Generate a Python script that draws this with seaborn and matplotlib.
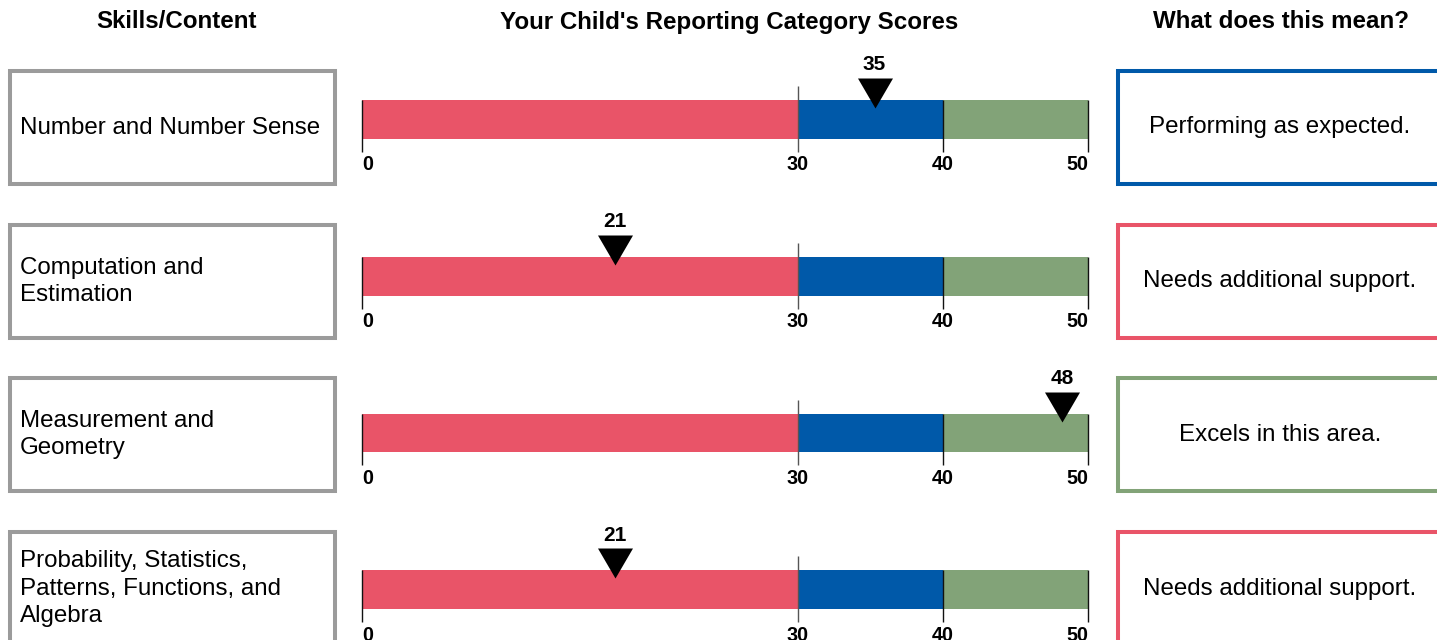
import matplotlib
matplotlib.use("Agg")
import matplotlib.pyplot as plt
from matplotlib.patches import Rectangle
from matplotlib.path import Path
import seaborn as sns
import pandas as pd

# ---------------- data ----------------
categories = [
    "Number and Number Sense",
    "Computation and\nEstimation",
    "Measurement and\nGeometry",
    "Probability, Statistics,\nPatterns, Functions, and\nAlgebra",
]
scores = [35, 21, 48, 21]
marker_pos = [35.3, 17.4, 48.2, 17.4]          # where the arrow sits on the scale
meanings = [
    "Performing as expected.",
    "Needs additional support.",
    "Excels in this area.",
    "Needs additional support.",
]
meaning_band = [1, 0, 2, 0]                    # index into bands
band_names = ["Needs support", "As expected", "Excels"]
band_ends = [30, 40, 50]
tick_values = [0, 30, 40, 50]
tick_labels = ["0", "30", "40", "50"]
headers = ["Skills/Content", "Your Child's Reporting Category Scores", "What does this mean?"]

band_colors = ["#E95468", "#0059A9", "#82A378"]
box_gray = "#9B9B9B"

# ---------------- figure ----------------
sns.set_style("white")
plt.rcParams["font.family"] = ["Liberation Sans", "DejaVu Sans"]
plt.rcParams["text.color"] = "black"

W, H = 1437, 640
fig = plt.figure(figsize=(W / 100, H / 100), dpi=100)


def fx(x):
    return x / W


def fy(y):
    return 1 - y / H


# headers
for hx, txt in zip([177, 729, 1281], headers):
    fig.text(fx(hx), fy(22), txt, ha="center", va="center", fontsize=17.4,
             fontweight="bold", color="black")

bar_px = 38.7
tri = Path([(-1, 0.857), (1, 0.857), (0, -0.857), (-1, 0.857)],
           [Path.MOVETO, Path.LINETO, Path.LINETO, Path.CLOSEPOLY])

for i, (cat, sc, mp, mean, mb) in enumerate(zip(categories, scores, marker_pos, meanings, meaning_band)):
    box_top = 71 + i * 153.7
    box_h = 113
    box_cy = box_top + box_h / 2

    # left box
    fig.patches.append(Rectangle((fx(10), fy(box_top + box_h)), fx(334.7) - fx(10), box_h / H,
                                 transform=fig.transFigure, facecolor="white",
                                 edgecolor=box_gray, linewidth=2.9, zorder=1))
    fig.text(fx(20), fy(box_cy), cat, ha="left", va="center", fontsize=17.4,
             linespacing=1.3, zorder=2, color="black")

    # right box
    fig.patches.append(Rectangle((fx(1118), fy(box_top + box_h)), fx(1600) - fx(1118), box_h / H,
                                 transform=fig.transFigure, facecolor="white",
                                 edgecolor=band_colors[mb], linewidth=2.9, zorder=1))
    fig.text(fx(1280), fy(box_cy), mean, ha="center", va="center", fontsize=17.4,
             zorder=2, color="black")

    # bar axes
    bar_top = 100 + i * 156.8
    bar_bot = bar_top + bar_px
    ax_top_px = bar_top - 60
    ax_bot_px = bar_bot + 42
    ax = fig.add_axes([fx(362), fy(ax_bot_px), fx(1088) - fx(362), (ax_bot_px - ax_top_px) / H])
    for end, col in sorted(zip(band_ends, band_colors), reverse=True):
        sns.barplot(x=[end], y=["r"], orient="h", width=1, color=col, saturation=1,
                    ax=ax, linewidth=0)
    ax.set_xlim(0, 50)
    ax.set_ylim(0.5 + 42 / bar_px, -0.5 - 60 / bar_px)
    ax.axis("off")

    y_topbar = -0.5
    y_botbar = 0.5
    y_tick_bottom = y_botbar + 13 / bar_px
    for tv, tl in zip(tick_values, tick_labels):
        if tv == band_ends[0]:
            ax.vlines(tv, y_topbar - 14 / bar_px, y_tick_bottom, color="#555555", lw=1.0,
                      clip_on=False, zorder=5)
        else:
            ax.vlines(tv, y_topbar, y_tick_bottom, color="#111111", lw=1.0,
                      clip_on=False, zorder=5)
        ha = "left" if tv == tick_values[0] else ("right" if tv == tick_values[-1] else "center")
        ax.text(tv, y_botbar + 26 / bar_px, tl, ha=ha, va="center", fontsize=14.2,
                fontweight="bold", clip_on=False, color="black")

    # marker and score
    ax.scatter([mp], [y_topbar - 7 / bar_px], marker=tri, s=25.2 ** 2, color="black",
               zorder=6, clip_on=False, linewidths=0)
    ax.text(mp, y_topbar - 35 / bar_px, str(sc), ha="center", va="center", fontsize=15,
            fontweight="bold", clip_on=False, color="black")

fig.savefig("out.png", dpi=100)
